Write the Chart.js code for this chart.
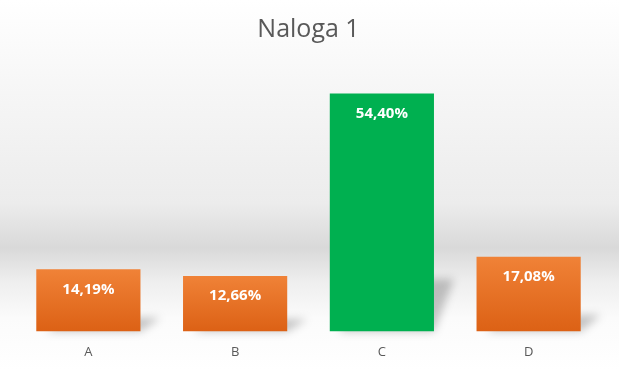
<!DOCTYPE html>
<html>
<head>
<meta charset="utf-8">
<script src="https://cdn.jsdelivr.net/npm/chart.js@4"></script>
<style>
  html, body { margin: 0; padding: 0; background: #fff; }
  #wrap { width: 619px; height: 370px; }
</style>
</head>
<body>
<div id="wrap"><canvas id="myChart" width="619" height="370"></canvas></div>
<script>
var labels = ['A', 'B', 'C', 'D'];
var values = [14.19, 12.66, 54.40, 17.08];
var highlight = [false, false, true, false];

var ctx = document.getElementById('myChart').getContext('2d');

// background: white -> light grey band -> white
var bgPlugin = {
    id: 'bg',
    beforeDraw: function (chart) {
        var c = chart.ctx, h = chart.height;
        var g = c.createLinearGradient(0, 0, 0, h);
        g.addColorStop(0, '#ffffff');
        g.addColorStop(0.25, '#f6f6f6');
        g.addColorStop(0.55, '#ececec');
        g.addColorStop(0.67, '#d9d9d9');
        g.addColorStop(0.76, '#eeeeee');
        g.addColorStop(0.86, '#fbfbfb');
        g.addColorStop(1, '#ffffff');
        c.save();
        c.fillStyle = g;
        c.fillRect(0, 0, chart.width, h);
        c.restore();
    }
};

// soft perspective shadow behind each bar
var shadowPlugin = {
    id: 'barShadow',
    beforeDatasetsDraw: function (chart) {
        var c = chart.ctx;
        var meta = chart.getDatasetMeta(0);
        c.save();
        c.filter = 'blur(4px)';
        c.fillStyle = 'rgba(0,0,0,0.22)';
        meta.data.forEach(function (bar) {
            var w = bar.width, left = bar.x - w / 2, right = bar.x + w / 2;
            var hh = bar.base - bar.y;
            var sh = hh * 0.22, off = 20;
            c.beginPath();
            c.moveTo(left + 10, bar.base);
            c.lineTo(right, bar.base);
            c.lineTo(right + off, bar.base - sh);
            c.lineTo(left + 10 + off, bar.base - sh);
            c.closePath();
            c.fill();
        });
        c.restore();
    }
};

// value labels inside the bars
var labelPlugin = {
    id: 'valueLabels',
    afterDatasetsDraw: function (chart) {
        var c = chart.ctx;
        var meta = chart.getDatasetMeta(0);
        c.save();
        c.font = 'bold 15px "Open Sans", sans-serif';
        c.fillStyle = '#ffffff';
        c.textAlign = 'center';
        c.textBaseline = 'middle';
        meta.data.forEach(function (bar, i) {
            var txt = values[i].toFixed(2).replace('.', ',') + '%';
            c.fillText(txt, bar.x, bar.y + 20);
        });
        c.restore();
    }
};

function barColor(context) {
    var i = context.dataIndex;
    if (highlight[i]) return '#00b050';
    var chart = context.chart;
    var area = chart.chartArea;
    var ys = chart.scales && chart.scales.y;
    if (!area || !ys) return '#ed7d31';
    var top = ys.getPixelForValue(values[i]);
    if (!isFinite(top) || !isFinite(area.bottom) || top >= area.bottom) return '#ed7d31';
    var g = chart.ctx.createLinearGradient(0, top, 0, area.bottom);
    g.addColorStop(0, '#f08237');
    g.addColorStop(1, '#dc6115');
    return g;
}

var myChart = new Chart(ctx, {
    type: 'bar',
    data: {
        labels: labels,
        datasets: [{
            label: 'Naloga 1',
            data: values,
            backgroundColor: barColor,
            borderWidth: 0,
            barPercentage: 0.71,
            categoryPercentage: 1.0
        }]
    },
    options: {
        responsive: false,
        animation: false,
        layout: { padding: { left: 15, right: 17, top: 0, bottom: -3 } },
        plugins: {
            legend: { display: false },
            tooltip: { enabled: false },
            title: {
                display: true,
                text: 'Naloga 1',
                color: '#595959',
                font: { family: '"Open Sans", sans-serif', size: 25, weight: 'normal' },
                padding: { top: 15, bottom: 24 }
            }
        },
        scales: {
            x: {
                grid: { display: false, drawTicks: false },
                border: { display: false },
                ticks: {
                    color: '#595959',
                    padding: 13,
                    font: { family: '"Open Sans", sans-serif', size: 13 }
                }
            },
            y: {
                display: false,
                min: 0,
                max: 60
            }
        }
    },
    plugins: [bgPlugin, shadowPlugin, labelPlugin]
});
</script>
</body>
</html>
